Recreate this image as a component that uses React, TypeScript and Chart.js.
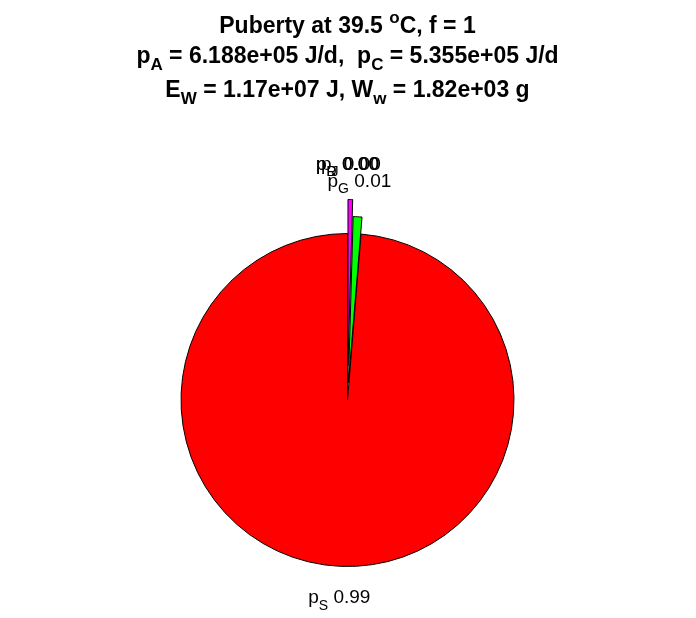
import React, { useEffect, useRef } from 'react';
import { Chart, registerables } from 'chart.js';

Chart.register(...registerables);

// Slices in drawing order (clockwise from 12 o'clock)
const sliceNames = ['p', 'p', 'p', 'p', 'p'];
const sliceSubs = ['R', 'D', 'J', 'G', 'S'];
const sliceValues = [0, 0, 0.0045, 0.0085, 0.987];
const sliceColors = ['#0000ff', '#00ffff', '#ff00ff', '#00ff00', '#ff0000'];
const sliceExplode = [34, 34, 34, 17, 0];

type Seg = { t: string; sub?: boolean; sup?: boolean };

const titleLine1: Seg[] = [{ t: 'Puberty at 39.5 ' }, { t: 'o', sup: true }, { t: 'C, f = 1' }];
const titleLine2: Seg[] = [
  { t: 'p' }, { t: 'A', sub: true }, { t: ' = 6.188e+05 J/d,  p' }, { t: 'C', sub: true }, { t: ' = 5.355e+05 J/d' },
];
const titleLine3: Seg[] = [
  { t: 'E' }, { t: 'W', sub: true }, { t: ' = 1.17e+07 J, W' }, { t: 'w', sub: true }, { t: ' = 1.82e+03 g' },
];
const titleLines = [titleLine1, titleLine2, titleLine3];
const titleBaselines = [33, 63, 97];

const FAMILY = '"Liberation Sans", Arial, Helvetica, sans-serif';
const PIE_RADIUS = 166.5;

function drawRich(ctx: CanvasRenderingContext2D, segs: Seg[], cx: number, baseline: number, size: number, bold: boolean) {
  const fontFor = (s: Seg) => `${bold ? 'bold ' : ''}${s.sub || s.sup ? Math.round(size * 0.74) : size}px ${FAMILY}`;
  let total = 0;
  const widths = segs.map((s) => {
    ctx.font = fontFor(s);
    const w = ctx.measureText(s.t).width;
    total += w;
    return w;
  });
  let x = cx - total / 2;
  segs.forEach((s, i) => {
    ctx.font = fontFor(s);
    const dy = s.sub ? size * 0.32 : s.sup ? -size * 0.42 : 0;
    ctx.fillText(s.t, x, baseline + dy);
    x += widths[i];
  });
}

// MATLAB-style explode: translate each slice along its mid-angle
const explodePlugin = {
  id: 'explode',
  afterDatasetUpdate(chart: any, args: any) {
    const meta = args.meta || chart.getDatasetMeta(args.index);
    meta.data.forEach((arc: any, i: number) => {
      const mid = (arc.startAngle + arc.endAngle) / 2;
      arc.x += Math.cos(mid) * sliceExplode[i];
      arc.y += Math.sin(mid) * sliceExplode[i];
    });
  },
};

const textPlugin = {
  id: 'matlabText',
  afterDraw(chart: any) {
    const ctx: CanvasRenderingContext2D = chart.ctx;
    ctx.save();
    ctx.fillStyle = '#000';
    ctx.textAlign = 'left';
    ctx.textBaseline = 'alphabetic';
    const { left, right } = chart.chartArea;
    const cxTitle = (left + right) / 2;
    titleLines.forEach((line, i) => drawRich(ctx, line, cxTitle, titleBaselines[i], 23, true));

    const meta = chart.getDatasetMeta(0);
    const size = 19;
    meta.data.forEach((arc: any, i: number) => {
      const mid = (arc.startAngle + arc.endAngle) / 2;
      const d = arc.outerRadius * 1.2;
      const x = arc.x + Math.cos(mid) * d;
      const y = arc.y + Math.sin(mid) * d - 3;
      const segs: Seg[] = [
        { t: sliceNames[i] },
        { t: sliceSubs[i], sub: true },
        { t: ' ' + sliceValues[i].toFixed(2) },
      ];
      drawRich(ctx, segs, x, y + size * 0.36, size, false);
    });
    ctx.restore();
  },
};

export default function App() {
  const ref = useRef<HTMLCanvasElement>(null);
  useEffect(() => {
    if (!ref.current) return;
    const chart = new Chart(ref.current, {
      type: 'pie',
      data: {
        labels: sliceSubs.map((s, i) => sliceNames[i] + '_' + s),
        datasets: [
          {
            data: sliceValues,
            backgroundColor: sliceColors,
            borderColor: '#000000',
            borderWidth: 1,
            hoverOffset: 0,
            radius: PIE_RADIUS,
          } as any,
        ],
      },
      options: {
        responsive: false,
        animation: false,
        events: [],
        layout: { padding: { top: 201, bottom: 19, left: 0, right: 1 } },
        plugins: {
          legend: { display: false },
          title: { display: false },
          tooltip: { enabled: false },
        },
      },
      plugins: [explodePlugin, textPlugin],
    });
    return () => chart.destroy();
  }, []);
  return (
    <div style={{ position: 'absolute', left: 0, top: 0, width: 696, height: 618, background: '#fff' }}>
      <canvas ref={ref} width={696} height={618} style={{ display: 'block' }} />
    </div>
  );
}
